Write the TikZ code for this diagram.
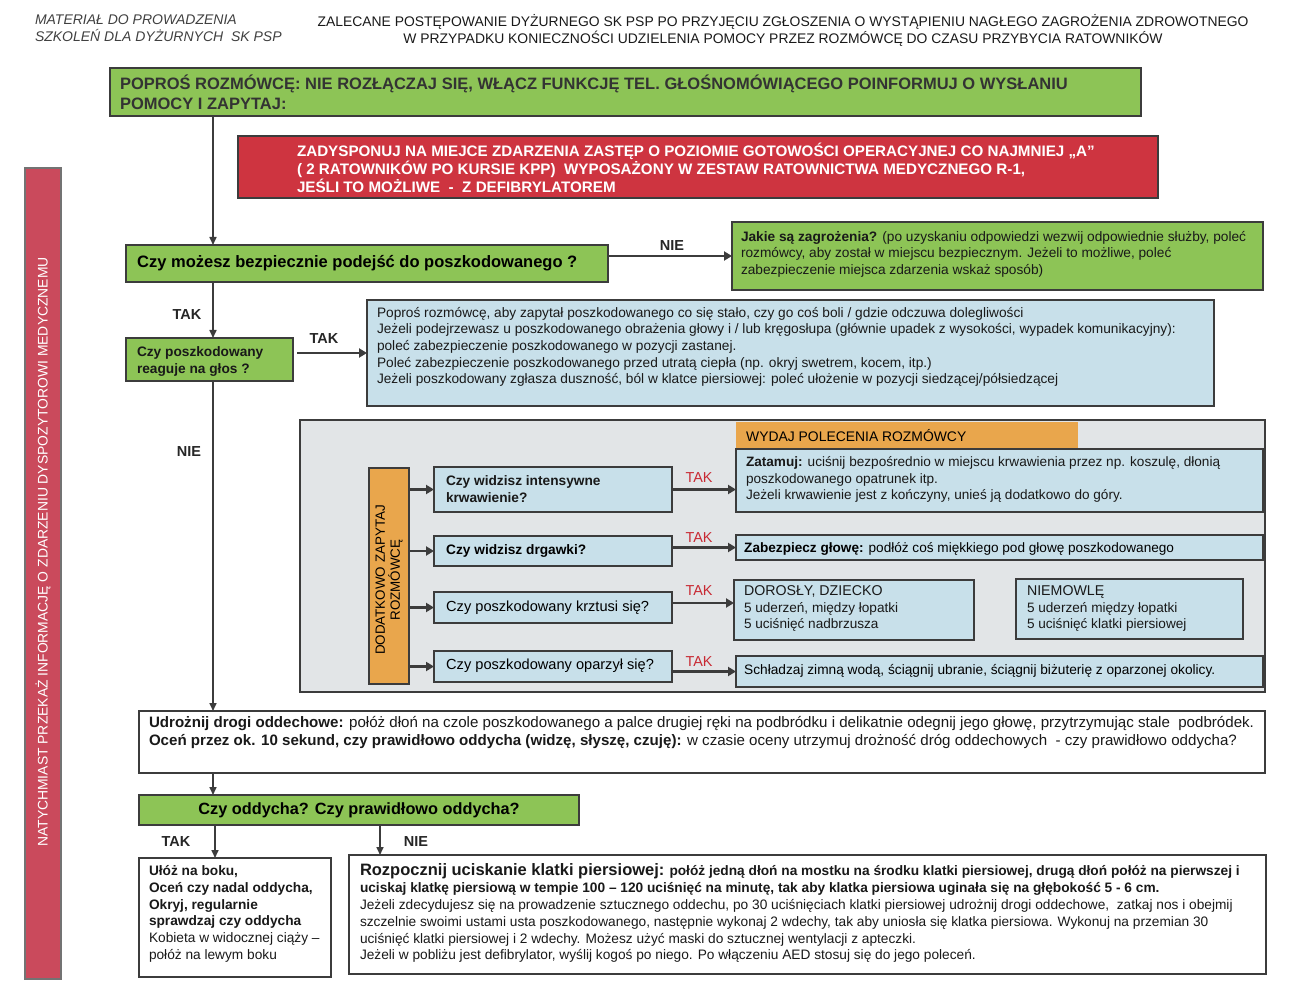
\documentclass[tikz,border=0pt]{standalone}
\usepackage{fontspec}
\setmainfont{Liberation Sans}
\usetikzlibrary{arrows.meta}
\definecolor{gfill}{RGB}{141,196,86}
\definecolor{rfill}{RGB}{206,52,64}
\definecolor{lbar}{RGB}{202,74,92}
\definecolor{bfill}{RGB}{200,224,234}
\definecolor{pfill}{RGB}{226,229,231}
\definecolor{ofill}{RGB}{233,166,76}
\definecolor{edge}{RGB}{60,60,60}
\definecolor{tak}{RGB}{200,40,50}
\newcommand\fs[2]{\fontsize{#1}{#2}\selectfont}
\newcommand\bx[6]{\node[box,#6,minimum width={#4pt-#2pt},minimum height={#5pt-#3pt}] (#1) at (#2,#3) {};}
\tikzset{
  box/.style={draw=edge,line width=1.3pt,inner sep=0pt,outer sep=0pt,anchor=north west},
  txt/.style={inner sep=0pt,outer sep=0pt,anchor=north west,align=left,text=black!90},
  lbl/.style={inner sep=0pt,font=\bfseries\fs{14.5}{16},text=black!85},
  tlbl/.style={inner sep=0pt,font=\fs{14.4}{16},text=tak},
  spine/.style={draw=edge,line width=1.6pt,-{Triangle[length=8pt,width=7pt]}},
  arr/.style={draw=edge,line width=2.8pt,-{Triangle[length=8pt,width=9pt]}},
}
\begin{document}
\begin{tikzpicture}[x=1pt,y=-1pt]
\useasboundingbox (0,0) rectangle (1290,981);
\coordinate (sp) at (213,0);
% header
\node[txt,font=\itshape\fs{14}{17},text=black!75] (hl) at (35,15) {MATERIAŁ DO PROWADZENIA\\SZKOLEŃ DLA DYŻURNYCH \ SK PSP};
\node[txt,anchor=north,align=center,font=\fs{13.9}{17}] (hc) at (783,14) {ZALECANE POSTĘPOWANIE DYŻURNEGO SK PSP PO PRZYJĘCIU ZGŁOSZENIA O WYSTĄPIENIU NAGŁEGO ZAGROŻENIA ZDROWOTNEGO\\W PRZYPADKU KONIECZNOŚCI UDZIELENIA POMOCY PRZEZ ROZMÓWCĘ DO CZASU PRZYBYCIA RATOWNIKÓW};
% left bar
\bx{lb}{25}{168}{61}{979}{fill=lbar,draw=black!55}
\node[inner sep=0pt,rotate=90,text=white,font=\fs{13.9}{15}] (lbt) at (43,552) {NATYCHMIAST PRZEKAŻ INFORMACJĘ O ZDARZENIU DYSPOZYTOROWI MEDYCZNEMU};
% box 1
\bx{b1}{110}{68}{1141}{116}{fill=gfill}
\node[txt,font=\bfseries\fs{16.5}{20},text=black!80] (b1t) at (120,74.5) {POPROŚ ROZMÓWCĘ: NIE ROZŁĄCZAJ SIĘ, WŁĄCZ FUNKCJĘ TEL. GŁOŚNOMÓWIĄCEGO POINFORMUJ O WYSŁANIU\\POMOCY I ZAPYTAJ:};
% red box
\bx{rb}{238}{136}{1158}{198}{fill=rfill}
\node[txt,text=white,font=\bfseries\fs{15.2}{18}] (rbt) at (297,143) {ZADYSPONUJ NA MIEJCE ZDARZENIA ZASTĘP O POZIOMIE GOTOWOŚCI OPERACYJNEJ CO NAJMNIEJ „A”\\( 2 RATOWNIKÓW PO KURSIE KPP) \ WYPOSAŻONY W ZESTAW RATOWNICTWA MEDYCZNEGO R-1,\\JEŚLI TO MOŻLIWE \ - \ Z DEFIBRYLATOREM};
% safe approach
\bx{qs}{126}{245}{608}{282}{fill=gfill}
\node[inner sep=0pt,anchor=west,font=\bfseries\fs{16.5}{18}] (qst) at (137,263) {Czy możesz bezpiecznie podejść do poszkodowanego ?};
\bx{jk}{732}{222}{1263}{290}{fill=gfill}
\node[txt,font=\fs{13.7}{16.5}] (jkt) at (741,231) {\textbf{Jakie są zagrożenia?} (po uzyskaniu odpowiedzi wezwij odpowiednie służby, poleć\\rozmówcy, aby został w miejscu bezpiecznym. Jeżeli to możliwe, poleć\\zabezpieczenie miejsca zdarzenia wskaż sposób)};
% reaguje
\bx{rg}{126}{338}{293}{381}{fill=gfill}
\node[txt,font=\bfseries\fs{13.7}{17}] (rgt) at (137,346.5) {Czy poszkodowany\\reaguje na głos ?};
\bx{bl}{367}{300}{1214}{406}{fill=bfill}
\node[txt,font=\fs{13.7}{16.7}] (blt) at (377,307) {Poproś rozmówcę, aby zapytał poszkodowanego co się stało, czy go coś boli / gdzie odczuwa dolegliwości\\Jeżeli podejrzewasz u poszkodowanego obrażenia głowy i / lub kręgosłupa (głównie upadek z wysokości, wypadek komunikacyjny):\\poleć zabezpieczenie poszkodowanego w pozycji zastanej.\\Poleć zabezpieczenie poszkodowanego przed utratą ciepła (np. okryj swetrem, kocem, itp.)\\Jeżeli poszkodowany zgłasza duszność, ból w klatce piersiowej: poleć ułożenie w pozycji siedzącej/półsiedzącej};
% panel
\bx{pn}{300}{420}{1265}{692}{fill=pfill}
\bx{wy}{736}{422}{1078}{448}{fill=ofill,draw=none}
\node[inner sep=0pt,anchor=west,font=\fs{13.9}{15}] (wyt) at (746,436) {WYDAJ POLECENIA ROZMÓWCY};
\bx{dz}{369}{468}{409}{684}{fill=ofill}
\node[inner sep=0pt,rotate=90,align=center,font=\fs{13.4}{15}] (dzt) at (389,580) {DODATKOWO ZAPYTAJ\\ROZMÓWCĘ};
\bx{q1}{434}{467}{672}{512}{fill=bfill}
\node[txt,font=\bfseries\fs{13.7}{17}] (q1t) at (446,475.5) {Czy widzisz intensywne\\krwawienie?};
\bx{q2}{434}{536}{672}{566}{fill=bfill}
\node[inner sep=0pt,anchor=west,font=\bfseries\fs{13.7}{15}] (q2t) at (446,551) {Czy widzisz drgawki?};
\bx{q3}{434}{592}{672}{623}{fill=bfill}
\node[inner sep=0pt,anchor=west,font=\fs{14.6}{15}] (q3t) at (446,608) {Czy poszkodowany krztusi się?};
\bx{q4}{434}{651}{672}{682}{fill=bfill}
\node[inner sep=0pt,anchor=west,font=\fs{14.6}{15}] (q4t) at (446,666) {Czy poszkodowany oparzył się?};
\bx{a1}{736}{449}{1263}{512}{fill=bfill}
\node[txt,font=\fs{13.6}{16.5}] (a1t) at (746,456.5) {\textbf{Zatamuj:} uciśnij bezpośrednio w miejscu krwawienia przez np. koszulę, dłonią\\poszkodowanego opatrunek itp.\\Jeżeli krwawienie jest z kończyny, unieś ją dodatkowo do góry.};
\bx{a2}{736}{535}{1263}{560}{fill=bfill}
\node[inner sep=0pt,anchor=west,font=\fs{13.6}{15}] (a2t) at (744,548.5) {\textbf{Zabezpiecz głowę:} podłóż coś miękkiego pod głowę poszkodowanego};
\bx{a3}{734}{580}{974}{640}{fill=bfill}
\node[txt,font=\fs{13.6}{16.5}] (a3t) at (744,586) {{\fs{14.2}{16.5}DOROSŁY, DZIECKO}\\5 uderzeń, między łopatki\\5 uciśnięć nadbrzusza};
\bx{a3b}{1016}{579}{1243}{639}{fill=bfill}
\node[txt,font=\fs{13.6}{16.5}] (a3bt) at (1027,586) {{\fs{14.2}{16.5}NIEMOWLĘ}\\5 uderzeń między łopatki\\5 uciśnięć klatki piersiowej};
\bx{a4}{736}{656}{1263}{687}{fill=bfill}
\node[inner sep=0pt,anchor=west,font=\fs{13.7}{15}] (a4t) at (744,671) {Schładzaj zimną wodą, ściągnij ubranie, ściągnij biżuterię z oparzonej okolicy.};
% airway
\bx{ud}{139}{711}{1265}{773}{fill=white}
\node[txt,font=\fs{15.1}{18}] (udt) at (149,716) {\textbf{Udrożnij drogi oddechowe:} połóż dłoń na czole poszkodowanego a palce drugiej ręki na podbródku i delikatnie odegnij jego głowę, przytrzymując stale \ podbródek.\\\textbf{Oceń przez ok. 10 sekund, czy prawidłowo oddycha (widzę, słyszę, czuję):} w czasie oceny utrzymuj drożność dróg oddechowych \ - czy prawidłowo oddycha?};
\bx{co}{139}{795}{579}{825}{fill=gfill}
\node[inner sep=0pt,font=\bfseries\fs{16.3}{18}] (cot) at (359,810) {Czy oddycha? Czy prawidłowo oddycha?};
\bx{ul}{139}{858}{331}{977}{fill=white}
\node[txt,font=\fs{13.7}{16.8}] (ult) at (149,865.5) {\textbf{Ułóż na boku,}\\\textbf{Oceń czy nadal oddycha,}\\\textbf{Okryj, regularnie}\\\textbf{sprawdzaj czy oddycha}\\Kobieta w widocznej ciąży –\\połóż na lewym boku};
\bx{rz}{349}{855}{1266}{974}{fill=white}
\node[txt,font=\fs{13.7}{16.8}] (rzt) at (360,864) {{\bfseries\fs{16.5}{16.8}Rozpocznij uciskanie klatki piersiowej:} \textbf{połóż jedną dłoń na mostku na środku klatki piersiowej, drugą dłoń połóż na pierwszej i}\\\textbf{uciskaj klatkę piersiową w tempie 100 – 120 uciśnięć na minutę, tak aby klatka piersiowa uginała się na głębokość 5 - 6 cm.}\\Jeżeli zdecydujesz się na prowadzenie sztucznego oddechu, po 30 uciśnięciach klatki piersiowej udrożnij drogi oddechowe, \ zatkaj nos i obejmij\\szczelnie swoimi ustami usta poszkodowanego, następnie wykonaj 2 wdechy, tak aby uniosła się klatka piersiowa. Wykonuj na przemian 30\\uciśnięć klatki piersiowej i 2 wdechy. Możesz użyć maski do sztucznej wentylacji z apteczki.\\Jeżeli w pobliżu jest defibrylator, wyślij kogoś po niego. Po włączeniu AED stosuj się do jego poleceń.};
% connectors
\draw[spine] (b1.south -| sp) -- (qs.north -| sp);
\draw[spine] (qs.south -| sp) -- (rg.north -| sp);
\draw[spine] (rg.south -| sp) -- (ud.north -| sp);
\draw[spine] (ud.south -| sp) -- (co.north -| sp);
\coordinate (tk) at (215,0);
\coordinate (nk) at (380,0);
\draw[spine] (co.south -| tk) -- (ul.north -| tk);
\draw[spine] (co.south -| nk) -- (rz.north -| nk);
\draw[arr] (jk.west -| qs.east) -- (jk.west);
\draw[arr] ([xshift=4pt]bl.west -| rg.east) -- (bl.west);
\draw[arr] (q1.west -| dz.east) -- (q1.west);
\draw[arr] (q2.west -| dz.east) -- (q2.west);
\draw[arr] (q3.west -| dz.east) -- (q3.west);
\draw[arr] (q4.west -| dz.east) -- (q4.west);
\draw[arr] (q1.east) -- (q1.east -| a1.west);
\draw[arr] (a2.west -| q2.east) -- (a2.west);
\draw[arr] (q3.east |- 0,603) -- (a3.west |- 0,603);
\draw[arr] (a4.west -| q4.east) -- (a4.west);
% labels
\node[lbl] (l1) at (672,246) {NIE};
\node[lbl] (l2) at (187,315) {TAK};
\node[lbl] (l3) at (324,339) {TAK};
\node[lbl] (l4) at (189,452) {NIE};
\node[lbl] (l5) at (176,842) {TAK};
\node[lbl] (l6) at (416,842) {NIE};
\node[tlbl] (t1) at (699,478) {TAK};
\node[tlbl] (t2) at (699,538) {TAK};
\node[tlbl] (t3) at (699,591) {TAK};
\node[tlbl] (t4) at (699,662) {TAK};
\end{tikzpicture}
\end{document}
